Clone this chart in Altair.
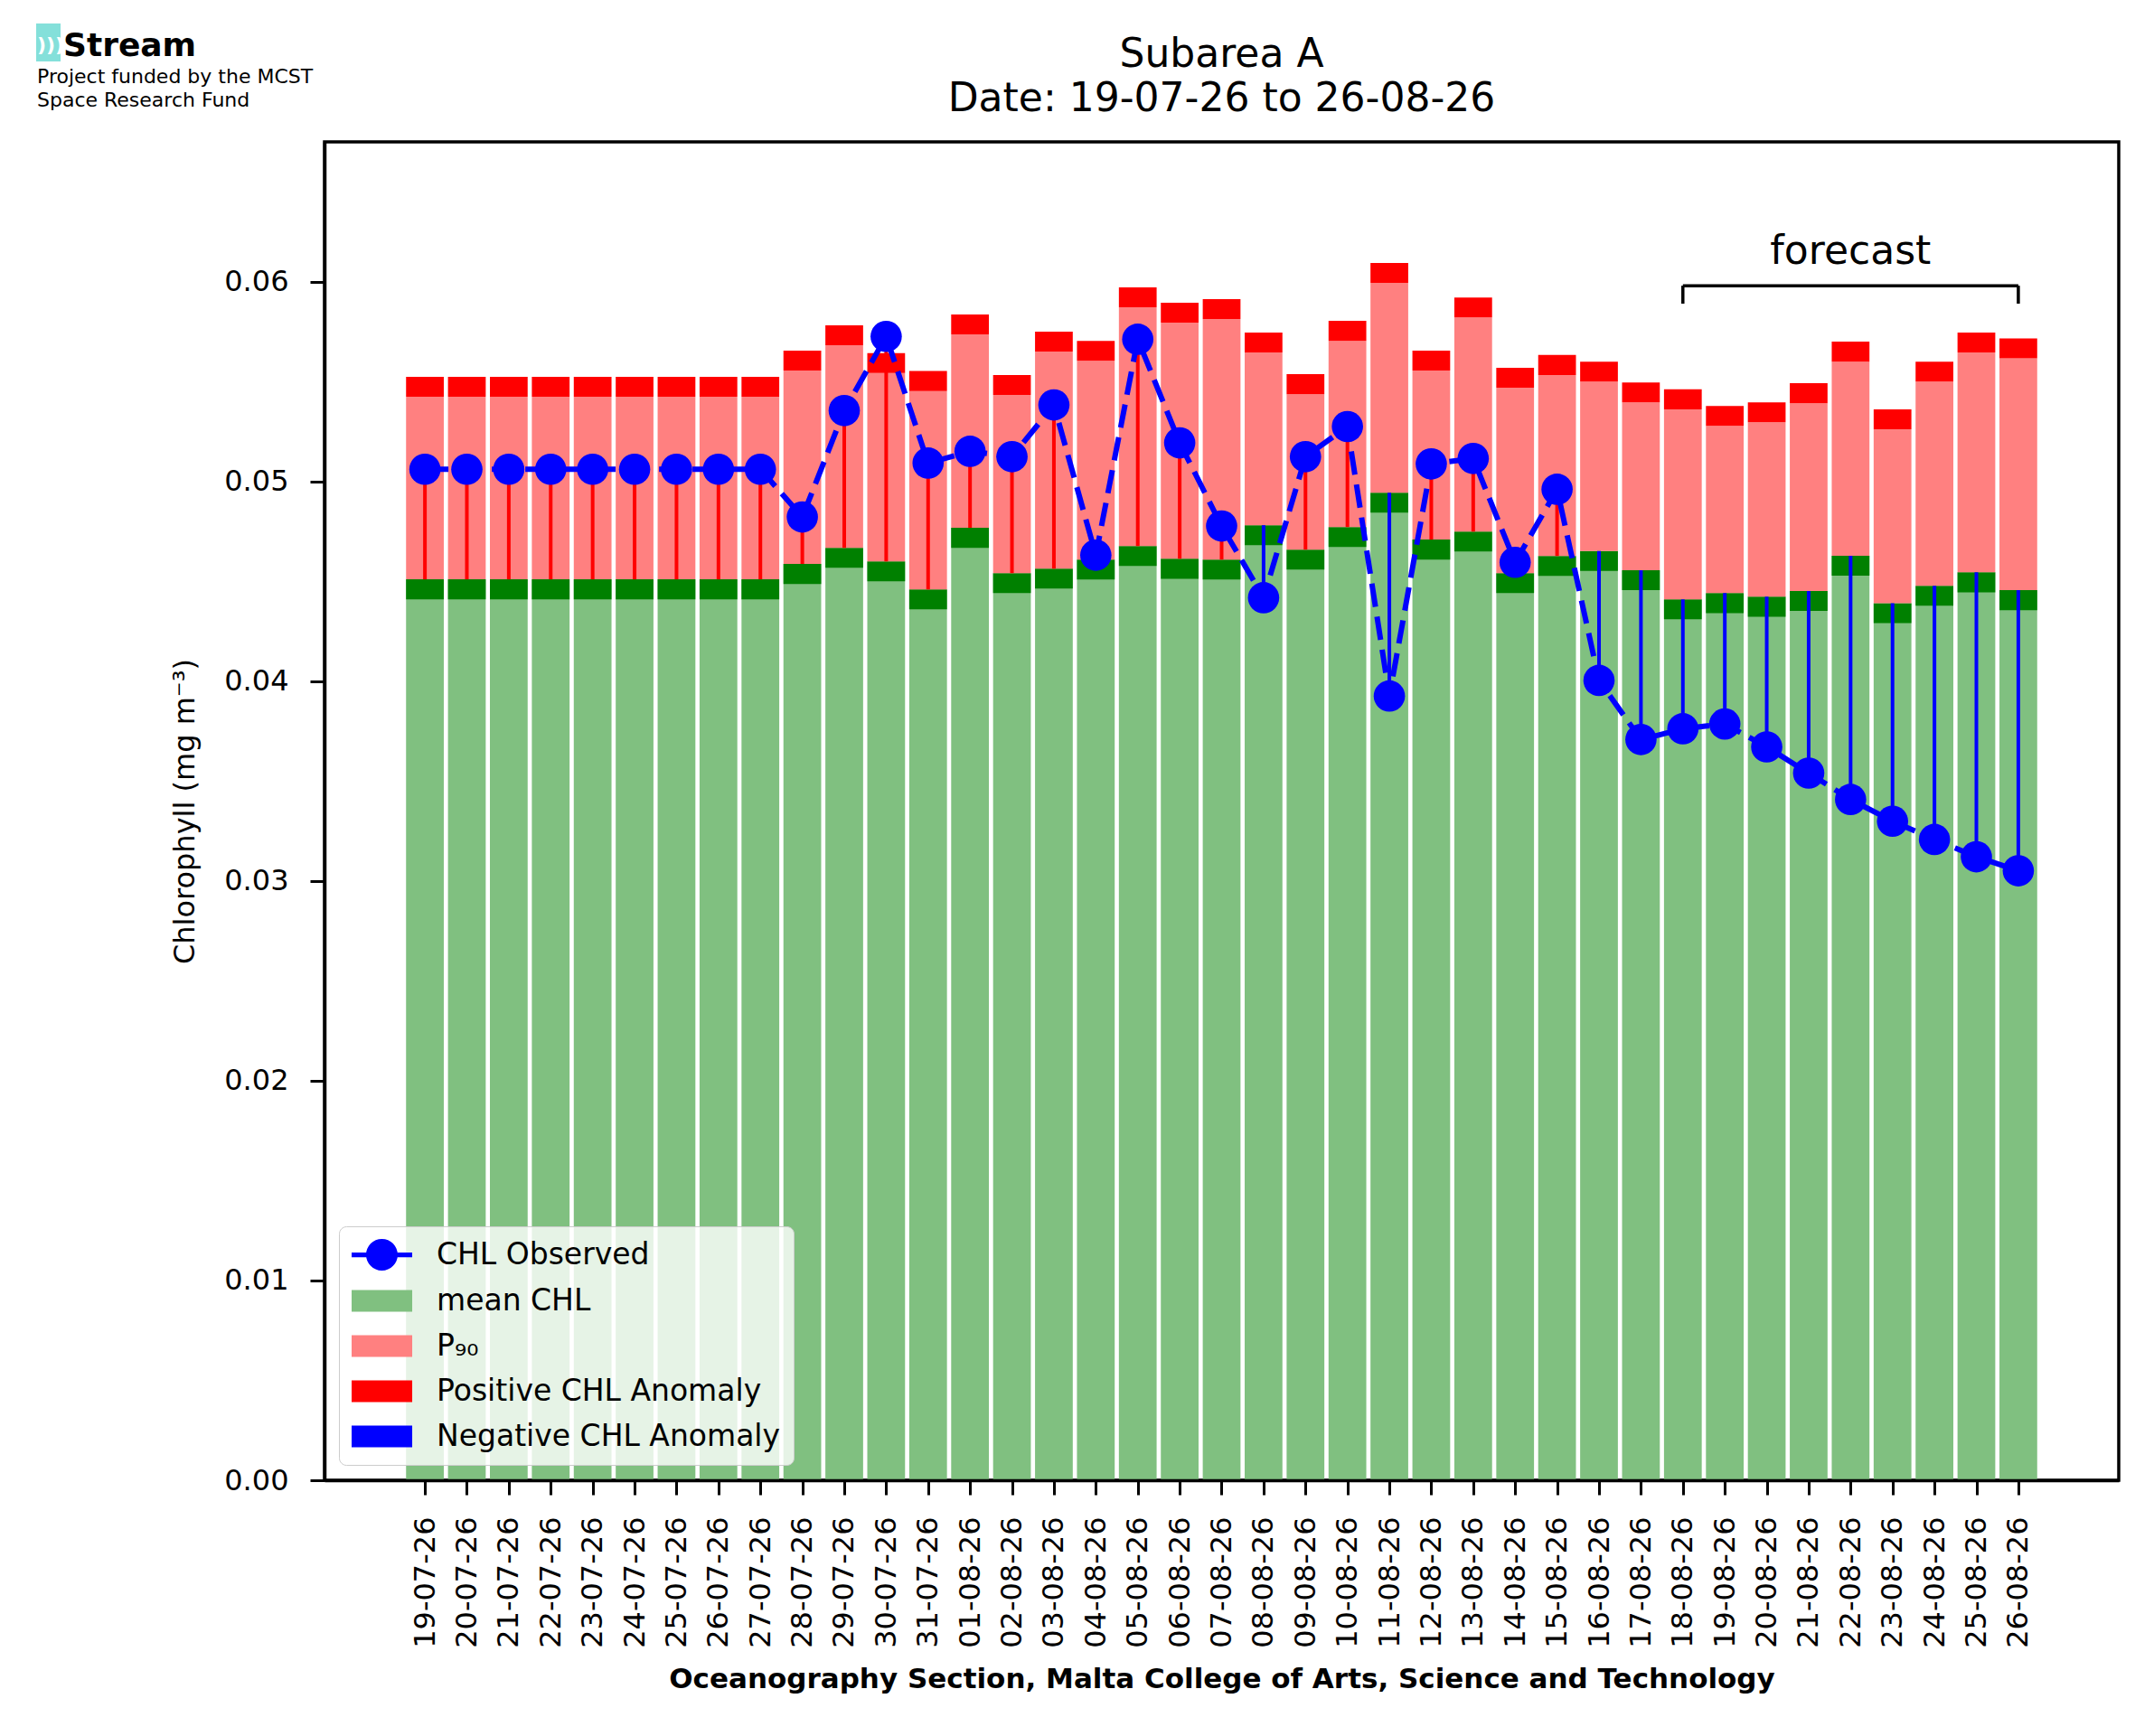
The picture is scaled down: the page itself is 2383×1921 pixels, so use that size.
import json
import altair as alt
import pandas as pd

# ---------------- data ----------------
dates = [
    "19-07-26", "20-07-26", "21-07-26", "22-07-26", "23-07-26", "24-07-26",
    "25-07-26", "26-07-26", "27-07-26", "28-07-26", "29-07-26", "30-07-26",
    "31-07-26", "01-08-26", "02-08-26", "03-08-26", "04-08-26", "05-08-26",
    "06-08-26", "07-08-26", "08-08-26", "09-08-26", "10-08-26", "11-08-26",
    "12-08-26", "13-08-26", "14-08-26", "15-08-26", "16-08-26", "17-08-26",
    "18-08-26", "19-08-26", "20-08-26", "21-08-26", "22-08-26", "23-08-26",
    "24-08-26", "25-08-26", "26-08-26",
]

mean_chl = [
    0.04510, 0.04510, 0.04510, 0.04510, 0.04510, 0.04510, 0.04510, 0.04510,
    0.04510, 0.04587, 0.04668, 0.04600, 0.04460, 0.04768, 0.04541, 0.04564,
    0.04609, 0.04677, 0.04613, 0.04609, 0.04781, 0.04659, 0.04772, 0.04944,
    0.04709, 0.04749, 0.04541, 0.04627, 0.04652, 0.04556, 0.04410, 0.04441,
    0.04423, 0.04452, 0.04628, 0.04391, 0.04478, 0.04545, 0.04456,
]

p90_chl = [
    0.05424, 0.05424, 0.05424, 0.05424, 0.05424, 0.05424, 0.05424, 0.05424,
    0.05424, 0.05555, 0.05682, 0.05543, 0.05453, 0.05736, 0.05433, 0.05650,
    0.05604, 0.05872, 0.05795, 0.05813, 0.05646, 0.05437, 0.05704, 0.05994,
    0.05555, 0.05821, 0.05469, 0.05533, 0.05500, 0.05396, 0.05361, 0.05278,
    0.05296, 0.05392, 0.05600, 0.05261, 0.05500, 0.05646, 0.05616,
]

obs_chl = [
    0.05061, 0.05061, 0.05061, 0.05061, 0.05061, 0.05061, 0.05061, 0.05061,
    0.05061, 0.04822, 0.05355, 0.05726, 0.05092, 0.05151, 0.05124, 0.05383,
    0.04631, 0.05712, 0.05193, 0.04777, 0.04418, 0.05124, 0.05275, 0.03926,
    0.05088, 0.05115, 0.04595, 0.04961, 0.04004, 0.03708, 0.03762, 0.03786,
    0.03671, 0.03540, 0.03408, 0.03299, 0.03208, 0.03121, 0.03051,
]

y_ticks = [0.0, 0.01, 0.02, 0.03, 0.04, 0.05, 0.06]

legend_labels = ["CHL Observed", "mean CHL", "P\u2089\u2080",
                 "Positive CHL Anomaly", "Negative CHL Anomaly"]

forecast_dates = ["18-08-26", "26-08-26"]
forecast_text = "forecast"
bracket_level = 0.0598
bracket_foot = 0.0589
forecast_label_level = 0.0609

title_lines = ["Subarea A", "Date: 19-07-26 to 26-08-26"]
x_title = "Oceanography Section, Malta College of Arts, Science and Technology"
y_title = "Chlorophyll (mg m\u207b\u00b3)"
logo_name_text = "Stream"
logo_lines = ["Project funded by the MCST", "Space Research Fund"]

# ---------------- styles ----------------
FONT = "DejaVu Sans"
LIGHT_GREEN = "#80c080"
DARK_GREEN = "#008000"
PINK = "#ff8080"
RED = "#ff0000"
BLUE = "#0000ff"
CYAN = "#84e0da"
legend_colors = [BLUE, LIGHT_GREEN, PINK, RED, BLUE]
# legend symbol paths (unit = half the symbol size); shifted so the swatch starts
# at the left of the entry and spans the width of matplotlib's handles
line_circle = ("M-1,-0.15L2.83,-0.15L2.83,0.15L-1,0.15Z "
               "M-0.086,0A1,1 0 1,1 1.914,0A1,1 0 1,1 -0.086,0Z")
swatch = "M-1,-0.69L2.83,-0.69L2.83,0.69L-1,0.69Z"
legend_shapes = [line_circle, swatch, swatch, swatch, swatch]

PLOT_W, PLOT_H = 1985, 1481

n = len(dates)
df = pd.DataFrame({
    "date": dates,
    "idx": list(range(n)),
    "mean": mean_chl,
    "p90": p90_chl,
    "obs": obs_chl,
})

xscale = alt.Scale(domain=[-0.45 - 0.05 * (n - 0.1), n - 1 + 0.45 + 0.05 * (n - 0.1)],
                   nice=False, zero=False)
yscale = alt.Scale(domain=[0, 0.067], nice=False, zero=True)

x_axis = alt.Axis(
    values=list(range(n)), labelExpr=f"{json.dumps(dates)}[datum.value]",
    labelAngle=270, labelFontSize=32, labelPadding=24, labelOverlap=False,
    labelFlush=False, tickSize=16, tickWidth=3, domainWidth=3.5, grid=False,
    title=x_title, titleFontSize=31, titleFontWeight="bold", titlePadding=20,
    zindex=1,
)
y_axis = alt.Axis(
    values=y_ticks, format=".2f", labelFontSize=32, labelPadding=24,
    tickSize=16, tickWidth=3, domainWidth=3.5, grid=False,
    title=y_title, titleFontSize=32, titleFontWeight="normal", titlePadding=26,
    zindex=1,
)


def X(field):
    return alt.X(field, type="quantitative", scale=xscale, axis=x_axis)


def Y(field):
    return alt.Y(field, type="quantitative", scale=yscale, axis=y_axis)


base = alt.Chart(df).transform_calculate(
    x0="datum.idx - 0.45",
    x1="datum.idx + 0.45",
    mlow="datum.mean - 0.001",
    ptop="datum.p90 + 0.001",
)

mean_bar = base.mark_bar(color=LIGHT_GREEN).encode(
    x=X("x0"), x2="x1:Q", y=Y("mean"), y2=alt.datum(0))
mean_band = base.mark_bar(color=DARK_GREEN).encode(
    x=X("x0"), x2="x1:Q", y=Y("mlow"), y2="mean:Q")
p90_bar = base.mark_bar(color=PINK).encode(
    x=X("x0"), x2="x1:Q", y=Y("mean"), y2="p90:Q")
p90_band = base.mark_bar(color=RED).encode(
    x=X("x0"), x2="x1:Q", y=Y("p90"), y2="ptop:Q")

stems = base.mark_rule(strokeWidth=4).encode(
    x=X("idx"), y=Y("mean"), y2="obs:Q",
    color=alt.condition("datum.obs >= datum.mean", alt.value(RED), alt.value(BLUE)),
)
obs_line = base.mark_line(color=BLUE, strokeWidth=6, strokeDash=[26, 11]).encode(
    x=X("idx"), y=Y("obs"))
obs_pts = base.mark_circle(color=BLUE, size=1200, opacity=1).encode(
    x=X("idx"), y=Y("obs"))

# forecast bracket
fc_start = dates.index(forecast_dates[0])
fc_end = dates.index(forecast_dates[1])
fc_df = pd.DataFrame({"start": [fc_start], "end": [fc_end],
                      "level": [bracket_level], "lab": [forecast_label_level]})
feet_df = pd.DataFrame({"pos": [fc_start, fc_end],
                        "foot": [bracket_foot] * 2, "level": [bracket_level] * 2})
bracket = alt.Chart(fc_df).mark_rule(color="black", strokeWidth=3.5).encode(
    x=X("start"), x2="end:Q", y=Y("level"))
feet = alt.Chart(feet_df).mark_rule(color="black", strokeWidth=3.5).encode(
    x=X("pos"), y=Y("foot"), y2="level:Q")
fc_label = alt.Chart(fc_df).transform_calculate(mid="(datum.start + datum.end) / 2").mark_text(
    text=forecast_text, fontSize=44, font=FONT, color="black", baseline="alphabetic",
    align="center").encode(x=X("mid"), y=Y("lab"))

# legend (invisible clipped points drive a merged colour/shape legend)
leg = alt.Legend(
    title=None, orient="none", legendX=16, legendY=1200,
    symbolSize=1225, symbolOpacity=1, symbolStrokeWidth=0,
    labelFontSize=33, labelFont=FONT, labelColor="black", labelLimit=1000,
    labelOffset=59, rowPadding=15, padding=14,
    fillColor="rgba(255,255,255,0.8)", strokeColor="#cccccc", cornerRadius=8,
)
legend_layer = alt.Chart(pd.DataFrame({"label": legend_labels})).mark_point(
    filled=True, clip=True).encode(
    x=alt.value(-500), y=alt.value(-500),
    color=alt.Color("label:N", scale=alt.Scale(domain=legend_labels, range=legend_colors), legend=leg),
    shape=alt.Shape("label:N", scale=alt.Scale(domain=legend_labels, range=legend_shapes), legend=leg),
)

# title and logo block (placed above the plot area)
one = alt.Data(values=[{"k": 1}])


def note(text, x, y, size, weight="normal", color="black", align="left"):
    return alt.Chart(one).mark_text(
        text=text, fontSize=size, fontWeight=weight, font=FONT, color=color,
        align=align, baseline="alphabetic").encode(x=alt.value(x), y=alt.value(y))


title1 = note(title_lines[0], PLOT_W / 2, -83, 44, align="center")
title2 = note(title_lines[1], PLOT_W / 2, -34, 44, align="center")

logo_box = alt.Chart(one).mark_rect(color=CYAN).encode(
    x=alt.value(-319), x2=alt.value(-292), y=alt.value(-131), y2=alt.value(-89))
logo_arcs = note(")))", -318, -100, 22, weight="bold", color="white")
logo_name = note(logo_name_text, -289, -95, 36, weight="bold")
logo_l1 = note(logo_lines[0], -318, -65, 22)
logo_l2 = note(logo_lines[1], -318, -39, 22)

chart = alt.layer(
    mean_bar, mean_band, p90_bar, p90_band, stems, obs_line, obs_pts,
    bracket, feet, fc_label, legend_layer,
    title1, title2, logo_box, logo_arcs, logo_name, logo_l1, logo_l2,
).properties(
    width=PLOT_W, height=PLOT_H,
    padding={"left": 351, "top": 149, "right": 31, "bottom": 275},
    autosize=alt.AutoSizeParams(type="none"),
).configure(font=FONT).configure_view(
    stroke="black", strokeWidth=3.5
).configure_axis(
    labelColor="black", titleColor="black", domainColor="black", tickColor="black",
    labelFont=FONT, titleFont=FONT,
)

chart.save("out.html", embed_options={"renderer": "svg", "actions": False})
